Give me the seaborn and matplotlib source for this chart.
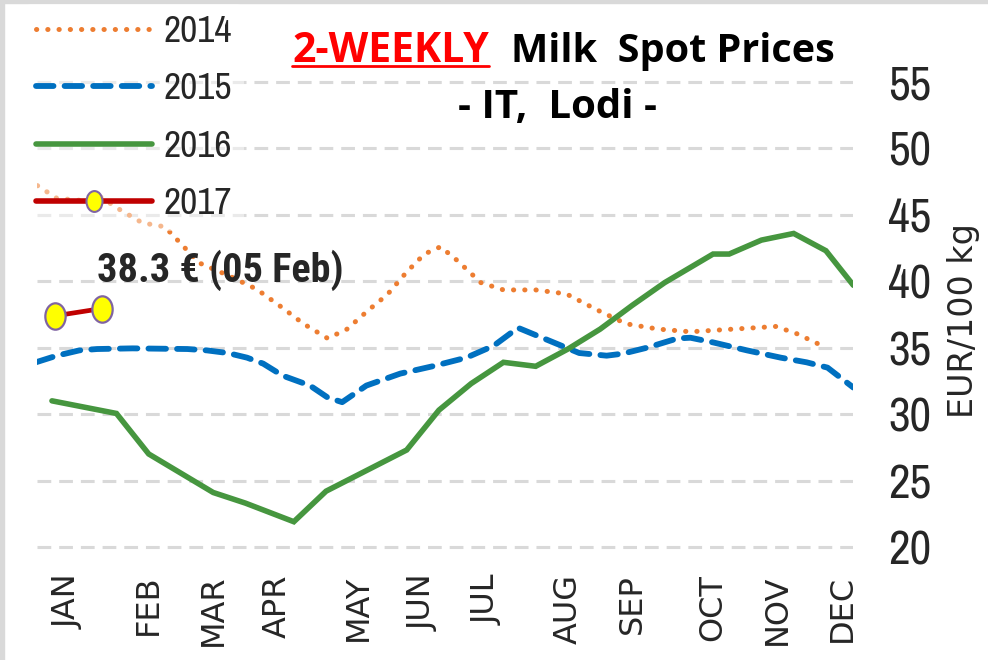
import numpy as np
import pandas as pd
import seaborn as sns
import matplotlib.pyplot as plt
from matplotlib.path import Path
from matplotlib.transforms import Affine2D
from matplotlib.lines import Line2D
from matplotlib.patches import Rectangle

# x = week of year (0 = first week of Jan), y = EUR/100 kg
months = ['JAN', 'FEB', 'MAR', 'APR', 'MAY', 'JUN', 'JUL', 'AUG', 'SEP', 'OCT', 'NOV', 'DEC']
month_weeks = [0, 5, 9, 13, 18, 22, 26, 31, 35, 40, 44, 48]
y_ticks = [20, 25, 30, 35, 40, 45, 50, 55]

wk_2014 = [-1.9, -0.7, 0.7, 2.0, 3.2, 4.6, 6.0, 7.1, 8.1, 10.0, 11.7, 13.3, 14.6, 16.1, 17.3,
           18.6, 19.8, 21.0, 22.1, 23.1, 24.1, 25.6, 27.0, 29.0, 30.9, 32.8, 34.6, 36.6, 38.6,
           40.6, 42.6, 43.9, 45.2, 46.5]
eur_2014 = [47.2, 46.25, 46.1, 46.35, 45.4, 44.4, 44.1, 42.7, 41.4, 40.4, 39.4, 38.0, 36.8, 35.7,
            36.4, 37.8, 39.0, 40.7, 42.05, 42.6, 41.6, 39.9, 39.35, 39.35, 39.05, 37.85, 36.8,
            36.4, 36.2, 36.35, 36.5, 36.6, 36.05, 35.3]

wk_2015 = [-2.0, -0.7, 0.7, 1.8, 4.0, 7.4, 8.6, 9.9, 11.1, 12.1, 13.3, 15.0, 16.1, 17.0, 18.5,
           20.6, 22.6, 24.7, 26.4, 27.9, 29.1, 30.3, 31.7, 33.4, 34.4, 35.9, 37.8, 38.6, 40.0,
           42.1, 44.2, 45.8, 47.1, 47.9, 48.7]
eur_2015 = [33.9, 34.4, 34.8, 34.9, 34.95, 34.9, 34.8, 34.6, 34.25, 33.8, 32.9, 32.15, 31.25,
            30.9, 32.15, 33.05, 33.6, 34.25, 35.15, 36.5, 35.9, 35.3, 34.6, 34.4, 34.55, 35.0,
            35.7, 35.75, 35.4, 34.8, 34.25, 33.9, 33.5, 32.75, 32.0]

wk_2016 = [-1, 3, 5, 7, 9, 11, 14, 16, 21, 23, 25, 27, 29, 31, 33, 35, 37, 40, 41, 43, 45, 47, 48.7]
eur_2016 = [31.0, 30.05, 27.0, 25.55, 24.1, 23.3, 21.9, 24.2, 27.3, 30.3, 32.3, 33.9, 33.6,
            34.9, 36.4, 38.2, 39.9, 42.05, 42.05, 43.1, 43.6, 42.3, 39.7]

wk_2017 = [-0.8, 2.1]
eur_2017 = [37.4, 37.95]

last_label = '38.3 € (05 Feb)'

sns.set_style('white')
narrow = ['Archivo Narrow', 'Barlow Condensed', 'DejaVu Sans']
narrow_bold = ['Roboto Condensed', 'Barlow Condensed', 'DejaVu Sans']
wide = ['DejaVu Sans']

fig = plt.figure(figsize=(9.88, 6.6), dpi=100)
ax = fig.add_axes([0.0379, 0.1612, 0.8258, 0.7246])

c14, c15, c16, c17 = '#ED7D31', '#0070C0', '#46963F', '#C00000'
dot = (0, (0.05, 2.2))
dash = (0, (3.0, 1.9))

sns.lineplot(x=wk_2014, y=eur_2014, ax=ax, sort=False, color=c14, lw=3.6,
             linestyle=dot, dash_capstyle='round', zorder=3)
sns.lineplot(x=wk_2015, y=eur_2015, ax=ax, sort=False, color=c15, lw=4.2,
             linestyle=dash, dash_capstyle='round', zorder=3)
sns.lineplot(x=wk_2016, y=eur_2016, ax=ax, sort=False, color=c16, lw=4.0,
             solid_joinstyle='miter', zorder=3)

ell = Path.unit_circle().transformed(Affine2D().scale(0.77, 1.0))
sns.lineplot(x=wk_2017, y=eur_2017, ax=ax, sort=False, color=c17, lw=3.4, marker=ell,
             markersize=19, markerfacecolor='#FFFF00', markeredgecolor='#8064A2',
             markeredgewidth=1.6, zorder=4)

ax.text(1.8, 40.85, last_label, fontsize=29, fontweight='bold', family=narrow_bold,
        va='center', ha='left', zorder=5)

ax.set_xlim(-1.9, 48.7)
ax.set_ylim(19.5, 55.5)
ax.set_xticks(month_weeks)
ax.set_xticklabels(months, rotation=90, fontsize=23, family=wide)
ax.set_yticks(y_ticks)
ax.yaxis.tick_right()
ax.set_yticklabels([str(t) for t in y_ticks], fontsize=34, family=narrow)
ax.tick_params(axis='x', length=0, pad=15)
ax.tick_params(axis='y', length=0, pad=25)
ax.yaxis.grid(True, color='#D9D9D9', lw=2.2, linestyle=(0, (4.5, 2.6)))
ax.xaxis.grid(False)
for s in ax.spines.values():
    s.set_visible(False)

fig.text(963 / 988, 1 - 321 / 660, 'EUR/100 kg', rotation=90, fontsize=24,
         family=wide, ha='center', va='center')

# legend
handles = [
    Line2D([], [], color=c14, lw=3.6, linestyle=dot, dash_capstyle='round'),
    Line2D([], [], color=c15, lw=4.2, linestyle=dash, dash_capstyle='round'),
    Line2D([], [], color=c16, lw=4.0, solid_capstyle='round'),
    Line2D([], [], color=c17, lw=4.0, marker=ell, markersize=15, markerfacecolor='#FFFF00',
           markeredgecolor='#8064A2', markeredgewidth=1.5),
]
leg = fig.legend(handles, ['2014', '2015', '2016', '2017'], loc='upper left',
                 bbox_to_anchor=(0.021, 1.0), prop={'family': narrow, 'size': 27},
                 handlelength=3.1, handletextpad=0.32, labelspacing=0.65, numpoints=1,
                 frameon=True, framealpha=0.45, facecolor='white', edgecolor='none',
                 borderpad=0.3, borderaxespad=0.1)
leg.set_zorder(10)

# title
tfont = dict(family=['Open Sans', 'DejaVu Sans'], stretch='condensed', fontweight='bold')
t1 = fig.text(292 / 988, 1 - 62 / 660, '2-WEEKLY', color='#FF0000', ha='left',
              va='baseline', fontsize=29.5, **tfont)
fig.text(511 / 988, 1 - 62 / 660, 'Milk  Spot Prices', color='black', ha='left',
         va='baseline', fontsize=28.5, **tfont)
fig.text(557 / 988, 1 - 118 / 660, '- IT,  Lodi -', color='black', ha='center',
         va='baseline', fontsize=29, **tfont)

# figure border (top and left)
fig.patches.append(Rectangle((0, 1 - 3 / 660), 1, 3 / 660, transform=fig.transFigure,
                             color='#D9D9D9', zorder=0))
fig.patches.append(Rectangle((0, 0), 3.5 / 988, 1, transform=fig.transFigure,
                             color='#D9D9D9', zorder=0))

fig.canvas.draw()
bb = t1.get_window_extent().transformed(fig.transFigure.inverted())
fig.add_artist(Line2D([bb.x0, bb.x1], [1 - 66 / 660, 1 - 66 / 660], color='#FF0000',
                      lw=2.0, transform=fig.transFigure))

fig.savefig('out.png', dpi=100)
